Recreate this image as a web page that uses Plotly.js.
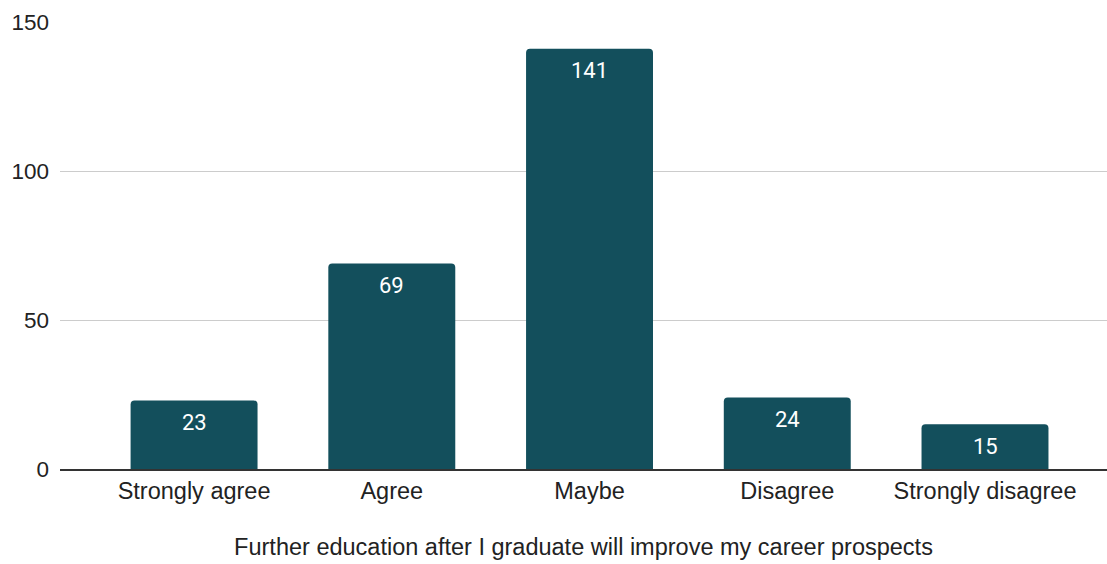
<!DOCTYPE html>
<html><head><meta charset="utf-8">
<script src="https://cdn.plot.ly/plotly-3.0.1.min.js"></script>
<style>html,body{margin:0;padding:0;background:#fff}#c{width:1107px;height:564px}</style>
</head><body><div id="c"></div>
<script>
var categories = ["Strongly agree", "Agree", "Maybe", "Disagree", "Strongly disagree"];
var counts = [23, 69, 141, 24, 15];
var yTicks = [0, 50, 100, 150];
var xTitle = "Further education after I graduate will improve my career prospects";

var labels = categories.map(function (c, i) {
  return {
    x: c, y: counts[i], xref: "x", yref: "y",
    text: String(counts[i]), showarrow: false,
    yanchor: "middle", yshift: -22,
    font: {family: "Roboto", size: 22, color: "#ffffff"}
  };
});

Plotly.newPlot("c", [{
  type: "bar",
  x: categories,
  y: counts,
  marker: {color: "#134f5c", cornerradius: 4},
  width: 0.642,
  hoverinfo: "none"
}], {
  width: 1107, height: 564,
  margin: {l: 60, r: 0, t: 22, b: 95},
  paper_bgcolor: "#fff", plot_bgcolor: "#fff",
  showlegend: false,
  annotations: labels,
  xaxis: {
    range: [-0.678, 4.617],
    tickfont: {family: "Arial", size: 23.5, color: "#222"},
    ticks: "", showgrid: false,
    showline: true, linecolor: "#333", linewidth: 1.5,
    title: {text: xTitle, font: {family: "Arial", size: 23.5, color: "#222"}, standoff: 36}
  },
  yaxis: {
    range: [0, 150],
    tickvals: yTicks,
    tickfont: {family: "Arial", size: 22.5, color: "#222"},
    gridcolor: "#cccccc", gridwidth: 1,
    zeroline: false, ticks: "", ticklabelstandoff: 10,
    fixedrange: true
  }
}, {staticPlot: true});
</script></body></html>
